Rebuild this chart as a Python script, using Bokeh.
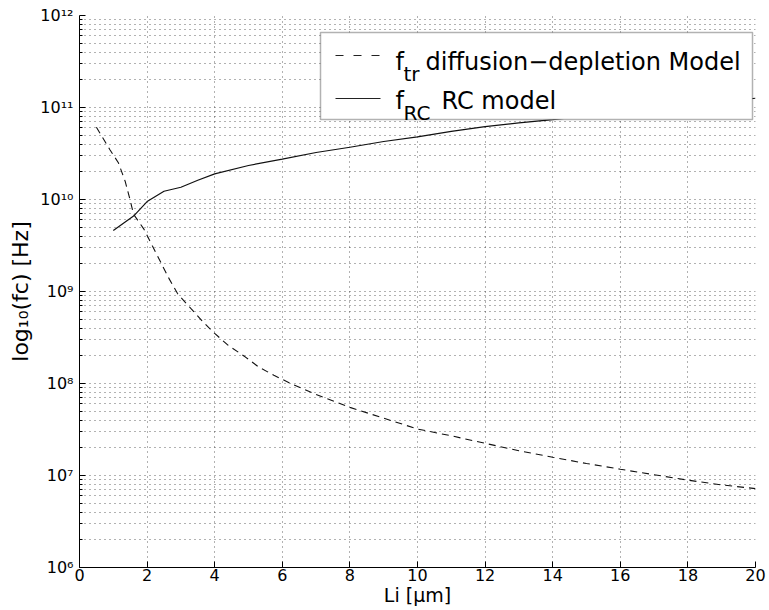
import math
from bokeh.plotting import figure
from bokeh.models import FixedTicker, CustomJSTickFormatter, BoxAnnotation, Label
from bokeh.embed import file_html
from bokeh.resources import INLINE

# ---------------- data ----------------
li_tr = [0.5, 0.9, 1.15, 1.35, 1.5, 1.6, 1.9, 2.15, 2.4, 2.65,
         2.9, 3.3, 3.65, 4.0, 4.4, 4.9, 5.3, 5.75, 6.25, 7,
         8, 9, 10, 11, 12, 13, 14, 15, 16, 17,
         18, 19, 20]
f_tr = [6.1e10, 3.47e10, 2.51e10, 1.58e10, 9.8e9, 6.9e9, 4.8e9, 3.16e9, 2.09e9, 1.38e9,
        9.5e8, 6.5e8, 4.7e8, 3.5e8, 2.6e8, 1.95e8, 1.51e8, 1.23e8, 1.0e8, 7.6e7,
        5.5e7, 4.2e7, 3.2e7, 2.7e7, 2.24e7, 1.86e7, 1.58e7, 1.35e7, 1.17e7, 1.02e7,
        8.9e6, 7.9e6, 7.2e6]

li_rc = [1.0, 1.6, 2.0, 2.5, 3.0, 3.5, 4, 5, 6, 7,
         8, 9, 10, 11, 12, 13, 14, 16, 18, 20]
f_rc = [4.6e9, 6.6e9, 9.5e9, 1.23e10, 1.36e10, 1.62e10, 1.9e10, 2.34e10, 2.75e10, 3.24e10,
        3.7e10, 4.27e10, 4.8e10, 5.5e10, 6.2e10, 6.8e10, 7.4e10, 8.9e10, 1.07e11, 1.26e11]

x_ticks = [0, 2, 4, 6, 8, 10, 12, 14, 16, 18, 20]
y_ticks = [1e6, 1e7, 1e8, 1e9, 1e10, 1e11, 1e12]
y_tick_labels = ["10\u2076", "10\u2077", "10\u2078", "10\u2079", "10\u00b9\u2070", "10\u00b9\u00b9", "10\u00b9\u00b2"]

x_label = "Li [\u03bcm]"
y_label = "log\u2081\u2080(fc) [Hz]"
legend_f = "f"
legend_sub = ["tr", "RC"]
legend_text = ["diffusion\u2212depletion Model", "RC model"]

# ---------------- style ----------------
FONT = "DejaVu Sans"
X_MIN, X_MAX = 0, 20
Y_MIN, Y_MAX = 1e6, 1e12

p = figure(width=769, height=610,
           x_range=(X_MIN, X_MAX), y_range=(Y_MIN, Y_MAX), y_axis_type="log",
           output_backend="svg", toolbar_location=None,
           min_border_left=79, min_border_right=14, min_border_top=15, min_border_bottom=43)
p.outline_line_color = None
p.background_fill_color = "white"

y_minor = [m * t for t in y_ticks[:-1] for m in range(2, 10)]
p.xaxis.ticker = FixedTicker(ticks=x_ticks)
p.yaxis.ticker = FixedTicker(ticks=y_ticks, minor_ticks=y_minor)
p.yaxis.formatter = CustomJSTickFormatter(args=dict(vals=y_ticks, labels=y_tick_labels), code="""
for (let i = 0; i < vals.length; i++) {
  if (Math.abs(Math.log10(vals[i]) - Math.log10(tick)) < 1e-6) return labels[i];
}
return "";
""")

for ax in (p.xaxis[0], p.yaxis[0]):
    ax.axis_line_color = "black"
    ax.axis_line_width = 1
    ax.major_tick_line_color = "black"
    ax.major_tick_in = 6
    ax.major_tick_out = 0
    ax.major_label_text_font = FONT
    ax.major_label_text_font_size = "16px"
    ax.major_label_text_color = "black"
    ax.axis_label_text_font = FONT
    ax.axis_label_text_font_style = "normal"
    ax.axis_label_text_color = "black"

p.xaxis.minor_tick_line_color = None
p.xaxis.major_label_standoff = 1
p.xaxis.axis_label = x_label
p.xaxis.axis_label_text_font_size = "19px"
p.xaxis.axis_label_standoff = 0

p.yaxis.minor_tick_line_color = "black"
p.yaxis.minor_tick_in = 3
p.yaxis.minor_tick_out = 0
p.yaxis.major_label_standoff = 6
p.yaxis.axis_label = y_label
p.yaxis.axis_label_text_font_size = "22px"
p.yaxis.axis_label_standoff = 4

GRID_COLOR, GRID_ALPHA, GRID_DASH = "#222222", 0.7, "1 4"
p.xgrid.grid_line_color = GRID_COLOR
p.xgrid.grid_line_alpha = GRID_ALPHA
p.xgrid.grid_line_dash = GRID_DASH
p.ygrid.grid_line_color = GRID_COLOR
p.ygrid.grid_line_alpha = GRID_ALPHA
p.ygrid.grid_line_dash = GRID_DASH
p.ygrid.minor_grid_line_color = GRID_COLOR
p.ygrid.minor_grid_line_alpha = GRID_ALPHA
p.ygrid.minor_grid_line_dash = GRID_DASH

# ---------------- data lines ----------------
p.line(li_tr, f_tr, line_color="#111111", line_width=1.1, line_dash="7 5")
p.line(li_rc, f_rc, line_color="#111111", line_width=1.2)

# ---------------- legend (drawn by hand to get subscripts) ----------------
# positions given as fractions of the plot frame (0..1 from left / top)
def fx(frac):
    return X_MIN + frac * (X_MAX - X_MIN)

def fy(frac):
    lo, hi = math.log10(Y_MIN), math.log10(Y_MAX)
    return 10 ** (hi - frac * (hi - lo))

FW, FH = 676.0, 552.0          # frame size in px
def px(x):                      # page x -> frame fraction
    return (x - 79) / FW
def py(y):                      # page y -> frame fraction
    return (y - 15) / FH

box = BoxAnnotation(left=fx(px(320)), right=fx(px(752)), top=fy(py(32)), bottom=fy(py(119)),
                    fill_color="white", fill_alpha=1.0, line_color="black", line_width=1.5,
                    level="annotation")
p.add_layout(box)

p.line([fx(px(335)), fx(px(380))], [fy(py(55)), fy(py(55))], line_color="#222222",
       line_width=1.1, line_dash="8 10", level="overlay")
p.line([fx(px(335)), fx(px(380))], [fy(py(98)), fy(py(98))], line_color="#222222",
       line_width=1.2, level="overlay")

rows = [(61, 73, 425), (100, 112, 441)]
for (base, sub_base, start), sub, txt in zip(rows, legend_sub, legend_text):
    p.add_layout(Label(x=fx(px(395)), y=fy(py(base)), text=legend_f, text_font=FONT,
                       text_font_size="24px", text_baseline="alphabetic", text_align="left",
                       text_color="black", level="overlay"))
    p.add_layout(Label(x=fx(px(403)), y=fy(py(sub_base)), text=sub, text_font=FONT,
                       text_font_size="20px", text_baseline="alphabetic", text_align="left",
                       text_color="black", level="overlay"))
    p.add_layout(Label(x=fx(px(start)), y=fy(py(base)), text=txt, text_font=FONT,
                       text_font_size="24px", text_baseline="alphabetic", text_align="left",
                       text_color="black", level="overlay"))

open("out.html", "w").write(file_html(p, INLINE))
